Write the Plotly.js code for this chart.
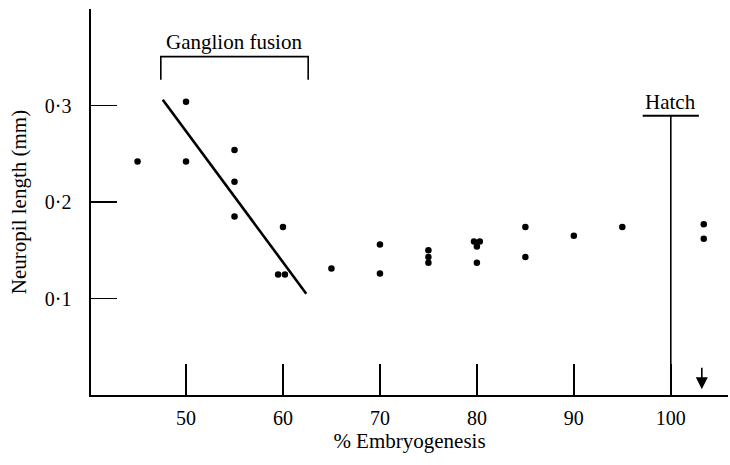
<!DOCTYPE html>
<html>
<head>
<meta charset="utf-8">
<script src="https://cdn.plot.ly/plotly-3.0.1.min.js"></script>
<style>html,body{margin:0;padding:0;background:#fff;}#chart{width:730px;height:465px;}</style>
</head>
<body>
<div id="chart"></div>
<script>
// Data
const embryoPct = [45, 50, 50, 55, 55, 55, 60, 59.5, 60.2, 65, 70, 70, 75, 75, 75, 79.7, 80.3, 80, 80, 85, 85, 90, 95, 103.4, 103.4];
const neuropilLen = [0.242, 0.304, 0.242, 0.254, 0.221, 0.185, 0.174, 0.125, 0.125, 0.131, 0.156, 0.126, 0.150, 0.143, 0.137, 0.159, 0.159, 0.154, 0.137, 0.174, 0.143, 0.165, 0.174, 0.177, 0.162];
const fitX = [47.6, 62.4];
const fitY = [0.306, 0.105];
const xTickVals = [50, 60, 70, 80, 90, 100];
const xTickText = ['50', '60', '70', '80', '90', '100'];
const yTickVals = [0.1, 0.2, 0.3];
const yTickText = ['0·1', '0·2', '0·3'];
const fusionStart = 47.4, fusionEnd = 62.6;
const hatchX = 100;
const arrowX = 103.2;

const FONT = 'Liberation Serif, Times New Roman, serif';

const traces = [
  {x: embryoPct, y: neuropilLen, type: 'scatter', mode: 'markers',
   marker: {color: '#000', size: 6.5}, hoverinfo: 'skip'},
  {x: fitX, y: fitY, type: 'scatter', mode: 'lines',
   line: {color: '#000', width: 2.6}, hoverinfo: 'skip'}
];

const layout = {
  width: 730, height: 465,
  margin: {l: 91, r: 2, t: 9, b: 70},
  paper_bgcolor: '#fff', plot_bgcolor: '#fff',
  showlegend: false,
  font: {family: FONT, color: '#000', size: 20},
  xaxis: {
    range: [40.2, 105.9], showgrid: false, zeroline: false,
    showline: true, linecolor: '#000', linewidth: 1.6,
    ticks: 'inside', ticklen: 31, tickwidth: 1.6, tickcolor: '#000',
    tickvals: xTickVals, ticktext: xTickText,
    tickfont: {family: FONT, size: 20}, ticklabelstandoff: 4,
    title: {text: '% Embryogenesis', font: {family: FONT, size: 21}, standoff: 2}
  },
  yaxis: {
    range: [0, 0.4], showgrid: false, zeroline: false,
    showline: true, linecolor: '#000', linewidth: 1.6,
    ticks: 'inside', ticklen: 26, tickwidth: 1.6, tickcolor: '#000',
    tickvals: yTickVals, ticktext: yTickText,
    tickfont: {family: FONT, size: 20}, ticklabelstandoff: 14,
    title: {text: 'Neuropil length (mm)', font: {family: FONT, size: 21}, standoff: 12}
  },
  shapes: [
    {type: 'line', xref: 'x', yref: 'y', x0: hatchX, x1: hatchX, y0: 0, y1: 0.2894,
     line: {color: '#000', width: 1.6}},
    {type: 'line', xref: 'x', yref: 'y', x0: 97.1, x1: 102.9, y0: 0.2894, y1: 0.2894,
     line: {color: '#000', width: 1.8}},
    {type: 'path', xref: 'x', yref: 'y',
     path: `M ${fusionStart},0.3268 L ${fusionStart},0.3506 L ${fusionEnd},0.3506 L ${fusionEnd},0.3268`,
     line: {color: '#000', width: 1.6}}
  ],
  annotations: [
    {x: hatchX, y: 0.2894, xref: 'x', yref: 'y', text: 'Hatch', showarrow: false,
     yanchor: 'bottom', yshift: 0, font: {family: FONT, size: 21}},
    {x: (fusionStart + fusionEnd) / 2, y: 0.3506, xref: 'x', yref: 'y', text: 'Ganglion fusion',
     showarrow: false, yanchor: 'bottom', yshift: 1, font: {family: FONT, size: 21}},
    {x: arrowX, y: 0.006, xref: 'x', yref: 'y', text: '', showarrow: true,
     ax: 0, ay: -23, arrowhead: 2, arrowsize: 1.5, arrowwidth: 1.6, arrowcolor: '#000'}
  ]
};

Plotly.newPlot('chart', traces, layout, {displayModeBar: false, staticPlot: true});
</script>
</body>
</html>
